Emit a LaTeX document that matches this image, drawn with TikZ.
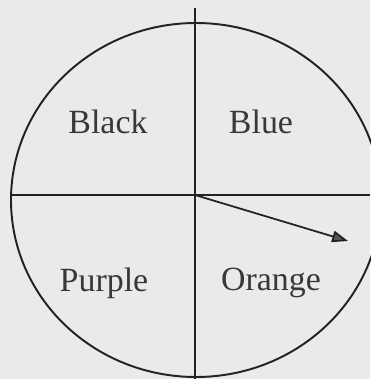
\documentclass[tikz,border=0pt]{standalone}
\usepackage{fontspec}
\setmainfont{Liberation Serif}
\usetikzlibrary{arrows.meta, positioning}
\definecolor{cink}{HTML}{222222}
\definecolor{cpaper}{HTML}{E9EAEC}
\definecolor{chead}{HTML}{555555}
\tikzset{
  every picture/.style={line width=1.1pt, draw=cink},
  label/.style={font=\fontsize{19.3}{23}\selectfont, text=cink!90, inner sep=0pt},
  arrow/.style={-{Triangle[length=9pt, width=6.5pt, fill=chead]}, draw=cink, line width=1pt},
}

\begin{document}
\begin{tikzpicture}[x=0.02cm, y=-0.02cm]
  \fill[cpaper] (0,0) rectangle (370,379);
  \useasboundingbox (0,0) rectangle (370,379);
  \coordinate (o) at (195,195);
  \coordinate (top) at (195,8);
  \coordinate (bot) at (195,379);
  \coordinate (west) at (11,195);
  \coordinate (east) at (370,195);
  \coordinate (tip) at (348,241);
  \draw[cink] (196,200) ellipse [x radius=185, y radius=177];
  \draw[cink] (top) -- (bot);
  \draw[cink] (west) -- (east);
  \node[label] (black) at (108,122) {Black};
  \node[label] (blue) at (261,122) {Blue};
  \node[label] (purple) at (104,283) {Purple};
  \node[label] (orange) at (271,283) {Orange};
  \draw[arrow] (o) -- (tip);
\end{tikzpicture}
\end{document}
